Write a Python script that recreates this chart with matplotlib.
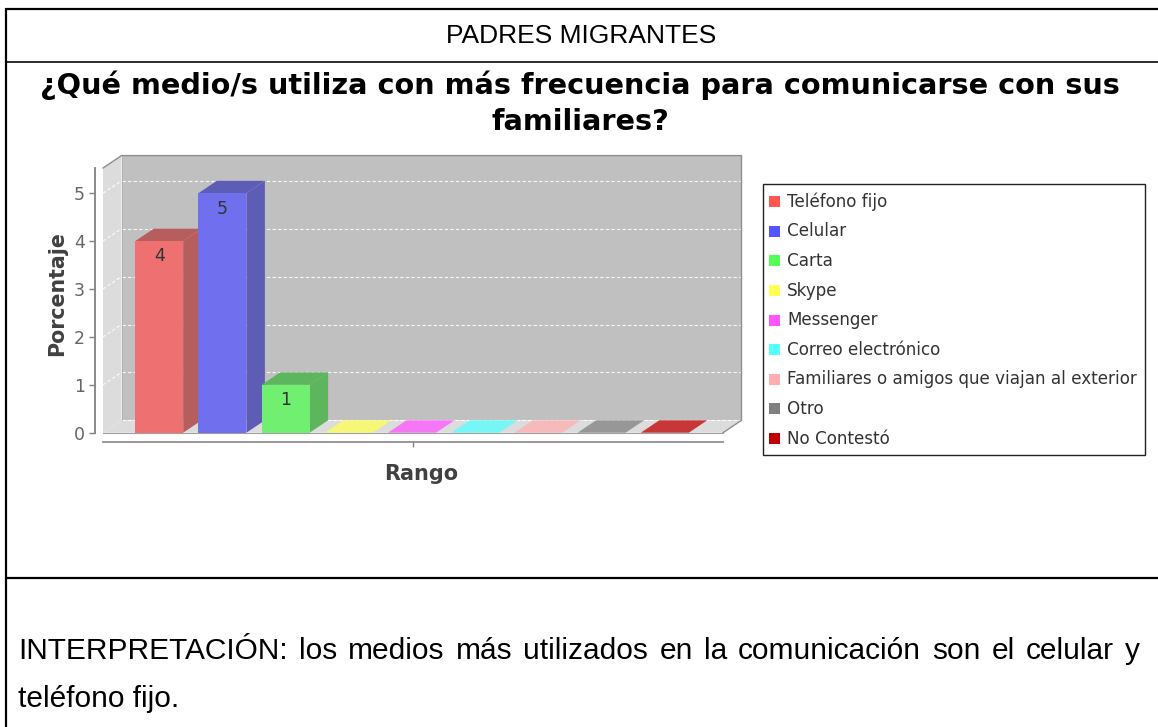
import matplotlib
matplotlib.use("Agg")
import matplotlib.pyplot as plt
from matplotlib.patches import Polygon, Rectangle
from matplotlib.colors import to_rgb
import numpy as np

# ---------------- data ----------------
categories = ["Teléfono fijo", "Celular", "Carta", "Skype", "Messenger",
              "Correo electrónico", "Familiares o amigos que viajan al exterior",
              "Otro", "No Contestó"]
values = [4, 5, 1, 0, 0, 0, 0, 0, 0]
series_colors = ["#ff5555", "#5555ff", "#55ff55", "#ffff55", "#ff55ff",
                 "#55ffff", "#ffafaf", "#808080", "#c00000"]
y_ticks = [0, 1, 2, 3, 4, 5]

header_text = "PADRES MIGRANTES"
title_lines = ["¿Qué medio/s utiliza con más frecuencia para comunicarse con sus",
               "familiares?"]
x_label = "Rango"
y_label = "Porcentaje"
interp_line1 = "INTERPRETACIÓN: los medios más utilizados en la comunicación son el celular y"
interp_line2 = "teléfono fijo."

# ---------------- figure ----------------
W, H = 1158, 727
fig = plt.figure(figsize=(W / 100, H / 100), dpi=100)
fig.patch.set_facecolor("white")

# overlay in pixel coords for table lines and legend
ov = fig.add_axes([0, 0, 1, 1])
ov.set_xlim(0, W)
ov.set_ylim(H, 0)
ov.axis("off")
ov.set_zorder(5)
ov.patch.set_visible(False)

PX = 0.72  # points per pixel
ov.plot([5, W], [9, 9], color="black", lw=2.2 * PX, solid_capstyle="butt")
ov.plot([6, 6], [8, H], color="black", lw=2.2 * PX, solid_capstyle="butt")
ov.plot([6, W], [62, 62], color="black", lw=1.6 * PX, solid_capstyle="butt")
ov.plot([6, W], [578, 578], color="black", lw=2.2 * PX, solid_capstyle="butt")

ov.text(581, 36, header_text, ha="center", va="center", fontsize=19,
        family="Liberation Sans", color="black")
ov.text(580, 85, title_lines[0], ha="center", va="center", fontsize=20.7,
        family="DejaVu Sans", fontweight="bold", color="black")
ov.text(580, 122, title_lines[1], ha="center", va="center", fontsize=20.7,
        family="DejaVu Sans", fontweight="bold", color="black")

# ---------------- chart axes (front plane) ----------------
left_px, right_px, top_px, bot_px = 103, 723, 168, 432.7
ax = fig.add_axes([left_px / W, 1 - bot_px / H, (right_px - left_px) / W,
                   (bot_px - top_px) / H])
n = len(values)
step_px = 63.2
first_center_px = 159.2
x0 = (left_px - first_center_px) / step_px
x1 = (right_px - first_center_px) / step_px
ax.set_xlim(x0, x1)
px_per_y = 47.9
ymax = (bot_px - top_px) / px_per_y
ax.set_ylim(0, ymax)
ax.patch.set_visible(False)

dx = 18.5 / step_px
dy = 12.4 / px_per_y

wall = "#c0c0c0"
side_wall = "#dcdcdc"
edge = "#8f8f8f"

def poly(pts, fc, ec="none", lw=0, z=1):
    p = Polygon(pts, closed=True, facecolor=fc, edgecolor=ec, lw=lw,
                zorder=z, clip_on=False)
    ax.add_patch(p)

# back wall
poly([(x0 + dx, dy), (x1 + dx, dy), (x1 + dx, ymax + dy), (x0 + dx, ymax + dy)],
     wall, z=0.5)
# left wall
poly([(x0, 0), (x0 + dx, dy), (x0 + dx, ymax + dy), (x0, ymax)], side_wall, z=0.6)
# floor
poly([(x0, 0), (x1, 0), (x1 + dx, dy), (x0 + dx, dy)], side_wall, z=0.6)

# gridlines on back wall and on left wall
for t in y_ticks:
    ax.plot([x0 + dx, x1 + dx], [t + dy, t + dy], color="white", lw=0.8,
            ls=(0, (3, 2)), zorder=0.7, clip_on=False, alpha=0.9)
    if t > 0:
        ax.plot([x0, x0 + dx], [t, t + dy], color="white", lw=0.8,
                ls=(0, (3, 2)), zorder=0.7, clip_on=False, alpha=0.9)

# box outline
ax.plot([x0, x0 + dx, x1 + dx, x1 + dx, x1], [ymax, ymax + dy, ymax + dy, dy, 0],
        color=edge, lw=1.0, zorder=0.8, clip_on=False)
ax.plot([x0 + dx, x0 + dx], [dy, ymax + dy], color="#b0b0b0", lw=0.6,
        zorder=0.8, clip_on=False)
ax.plot([x0, x1], [0, 0], color="#a0a0a0", lw=0.8, zorder=0.8, clip_on=False)

def blend(c, bg, a=0.75, dark=1.0):
    c = np.array(to_rgb(c)) * dark
    bg = np.array(to_rgb(bg))
    return tuple(a * c + (1 - a) * bg)

bw = 48 / step_px
for i, (v, c) in enumerate(zip(values, series_colors)):
    l, r = i - bw / 2, i + bw / 2
    front = blend(c, wall)
    darkc = blend(c, wall, dark=0.7)
    topc = darkc if v > 0 else blend(c, side_wall)
    # side face
    poly([(r, 0), (r + dx, dy), (r + dx, v + dy), (r, v)], darkc, z=2)
    # top face
    poly([(l, v), (r, v), (r + dx, v + dy), (l + dx, v + dy)], topc, z=2)
    # front face
    if v > 0:
        poly([(l, 0), (r, 0), (r, v), (l, v)], front, z=2.1)
        ax.text(i, v - 0.32, str(v), ha="center", va="center", fontsize=12.5,
                color="#333333", family="DejaVu Sans", zorder=3)

# axes styling
for s in ["top", "right"]:
    ax.spines[s].set_visible(False)
ax.spines["left"].set_position(("outward", 6))
ax.spines["bottom"].set_position(("outward", 6.5))
ax.spines["left"].set_color("#808080")
ax.spines["bottom"].set_color("#909090")
ax.spines["left"].set_linewidth(1.3)
ax.spines["bottom"].set_linewidth(1.3)
ax.set_yticks(y_ticks)
ax.set_yticklabels([str(t) for t in y_ticks])
ax.tick_params(axis="y", length=4, width=1, color="#808080", labelsize=12.5,
               labelcolor="#666666", pad=3)
ax.set_xticks([(x0 + x1) / 2])
ax.set_xticklabels([""])
ax.tick_params(axis="x", length=3.5, width=1, color="#808080")

ov.text(421, 474, x_label, ha="center", va="center", fontsize=15,
        color="#404040", family="DejaVu Sans", fontweight="bold")
ov.text(57, 294, y_label, ha="center", va="center", fontsize=14.8,
        color="#404040", family="DejaVu Sans", fontweight="bold", rotation=90)

# ---------------- legend ----------------
ov.add_patch(Rectangle((762.5, 183.5), 382, 271, facecolor="white",
                       edgecolor="#222222", lw=1.4 * PX))
for i, (cat, c) in enumerate(zip(categories, series_colors)):
    yc = 201.7 + i * 29.6
    ov.add_patch(Rectangle((768.5, yc - 5.5), 11, 11, facecolor=c, edgecolor="none"))
    ov.text(787, yc, cat, ha="left", va="center", fontsize=12.1,
            color="#333333", family="DejaVu Sans")

# ---------------- interpretation (justified) ----------------
r = fig.canvas.get_renderer()
words = interp_line1.split(" ")
tx = [ov.text(0, 651, w, ha="left", va="center", fontsize=21.5,
              family="Liberation Sans", color="black") for w in words]
widths = [t.get_window_extent(r).width for t in tx]
lx0, lx1 = 18, 1140
gap = (lx1 - lx0 - sum(widths)) / (len(words) - 1)
xx = lx0
for t, wdt in zip(tx, widths):
    t.set_x(xx)
    xx += wdt + gap
ov.text(18, 699, interp_line2, ha="left", va="center", fontsize=21.5,
        family="Liberation Sans", color="black")

fig.savefig("out.png", dpi=100, facecolor="white")
